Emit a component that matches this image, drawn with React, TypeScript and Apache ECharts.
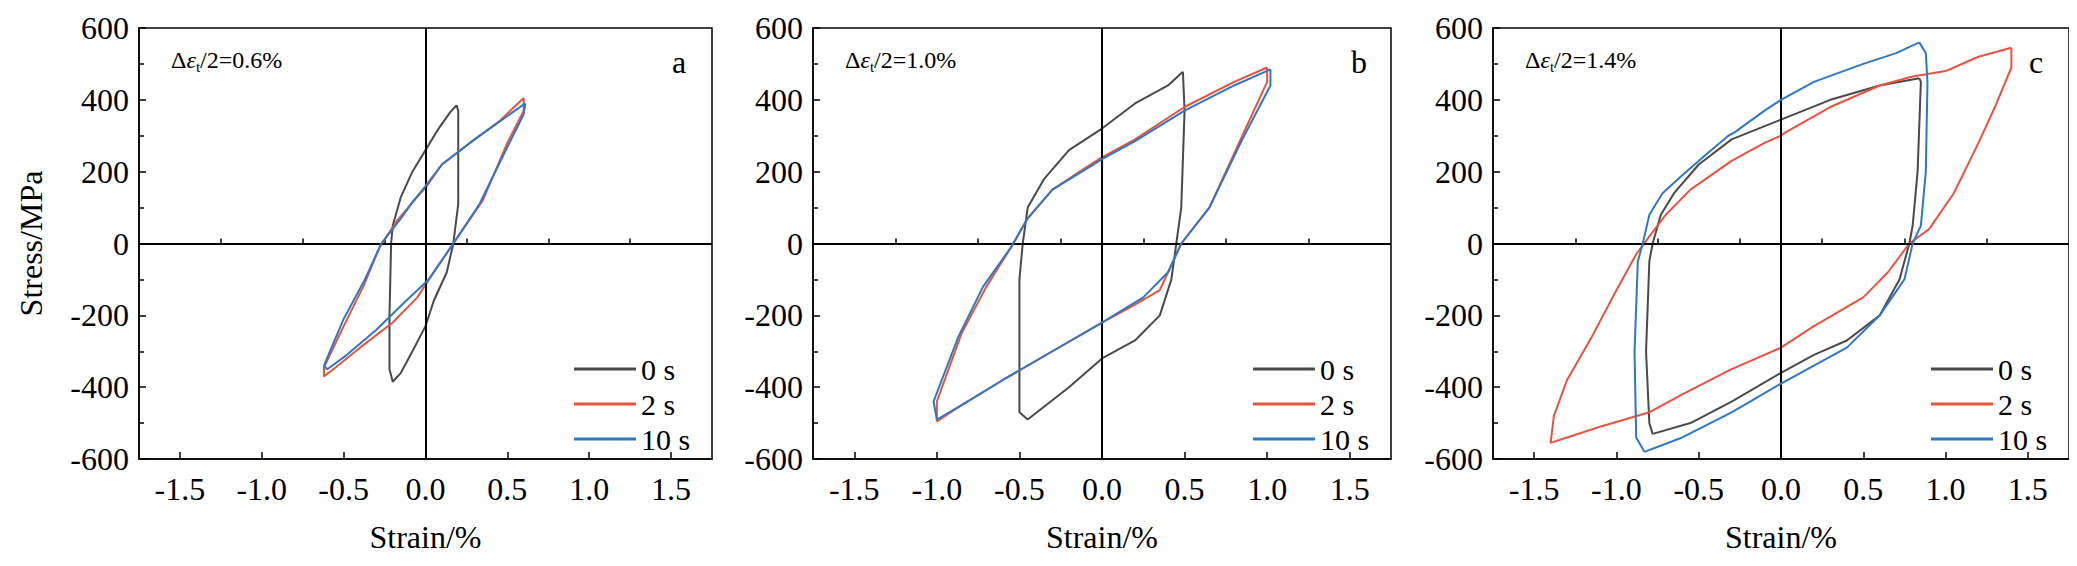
import React, { useEffect, useRef } from 'react';
import * as echarts from 'echarts';

type Pt = [number, number];

// panel a, Δε/2 = 0.6%
const a0: Pt[] = [[0.19, 385], [0.2, 370], [0.2, 110], [0.17, 0], [0.13, -80], [0.05, -160], [0, -230], [-0.08, -300], [-0.15, -360], [-0.2, -385], [-0.22, -350], [-0.22, -200], [-0.21, 0], [-0.2, 50], [-0.15, 130], [-0.08, 200], [0, 260], [0.08, 320], [0.15, 365], [0.19, 385]];
const a2: Pt[] = [[0.6, 405], [0.6, 370], [0.5, 280], [0.35, 120], [0.17, 0], [0.05, -80], [-0.05, -150], [-0.2, -220], [-0.4, -290], [-0.55, -345], [-0.62, -370], [-0.62, -345], [-0.5, -230], [-0.38, -120], [-0.28, -10], [-0.18, 60], [-0.05, 130], [0, 155], [0.1, 220], [0.3, 290], [0.45, 340], [0.6, 405]];
const a10: Pt[] = [[0.61, 390], [0.6, 360], [0.48, 250], [0.33, 110], [0.17, 0], [0.02, -100], [-0.12, -160], [-0.3, -240], [-0.48, -310], [-0.6, -350], [-0.62, -340], [-0.5, -210], [-0.37, -100], [-0.27, 0], [-0.15, 70], [-0.08, 115], [0, 160], [0.1, 220], [0.3, 290], [0.5, 355], [0.61, 390]];

// panel b, Δε/2 = 1.0%
const b0: Pt[] = [[0.49, 478], [0.5, 370], [0.48, 100], [0.45, 0], [0.42, -100], [0.35, -200], [0.2, -270], [0, -320], [-0.2, -400], [-0.45, -490], [-0.5, -470], [-0.5, -100], [-0.48, 0], [-0.45, 100], [-0.35, 180], [-0.2, 260], [0, 320], [0.2, 390], [0.4, 440], [0.49, 478]];
const b2: Pt[] = [[1.0, 490], [1.0, 450], [0.85, 300], [0.65, 100], [0.48, 0], [0.35, -130], [0.2, -170], [0, -220], [-0.3, -300], [-0.6, -380], [-0.85, -450], [-1.0, -495], [-1.0, -440], [-0.85, -250], [-0.7, -120], [-0.55, -10], [-0.45, 70], [-0.3, 150], [-0.07, 220], [0, 240], [0.2, 290], [0.5, 380], [0.8, 450], [1.0, 490]];
const b10: Pt[] = [[1.02, 485], [1.02, 440], [0.85, 290], [0.65, 100], [0.48, 0], [0.4, -80], [0.25, -150], [0, -220], [-0.3, -300], [-0.6, -380], [-0.85, -450], [-1.0, -490], [-1.02, -440], [-0.87, -260], [-0.72, -120], [-0.55, -10], [-0.45, 70], [-0.3, 150], [-0.07, 215], [0, 235], [0.2, 285], [0.5, 370], [0.8, 440], [1.02, 485]];

// panel c, Δε/2 = 1.4%
const c0: Pt[] = [[0.84, 460], [0.85, 450], [0.83, 200], [0.8, 50], [0.78, 0], [0.72, -100], [0.6, -200], [0.4, -270], [0.2, -310], [0, -360], [-0.3, -440], [-0.55, -500], [-0.78, -530], [-0.8, -500], [-0.82, -300], [-0.8, -50], [-0.78, 0], [-0.73, 80], [-0.65, 140], [-0.5, 220], [-0.3, 290], [0, 345], [0.3, 400], [0.6, 440], [0.84, 460]];
const c2: Pt[] = [[1.4, 545], [1.4, 490], [1.3, 380], [1.2, 280], [1.05, 140], [0.9, 40], [0.78, 0], [0.65, -80], [0.5, -150], [0.2, -230], [0, -290], [-0.3, -350], [-0.6, -420], [-0.8, -470], [-1.1, -510], [-1.3, -540], [-1.4, -555], [-1.38, -480], [-1.3, -380], [-1.15, -260], [-1.0, -130], [-0.88, -30], [-0.8, 20], [-0.7, 80], [-0.55, 150], [-0.3, 230], [-0.1, 280], [0, 300], [0.03, 310], [0.3, 380], [0.6, 440], [0.8, 465], [1.0, 480], [1.2, 520], [1.4, 545]];
const c10: Pt[] = [[0.84, 560], [0.88, 530], [0.89, 450], [0.88, 200], [0.85, 50], [0.8, 0], [0.75, -100], [0.6, -200], [0.4, -290], [0.2, -340], [0, -390], [-0.3, -470], [-0.6, -540], [-0.83, -580], [-0.88, -540], [-0.89, -300], [-0.87, -50], [-0.84, 0], [-0.8, 80], [-0.72, 140], [-0.6, 190], [-0.45, 250], [-0.32, 300], [-0.28, 310], [-0.1, 370], [0, 400], [0.2, 450], [0.5, 500], [0.7, 530], [0.84, 560]];

const names = ['0 s', '2 s', '10 s'];
const colors = ['#4a4a4a', '#e8533f', '#2f78c4'];
const xMajor = [-1.5, -1, -0.5, 0, 0.5, 1, 1.5];
const xMinor = [-1.25, -0.75, -0.25, 0.25, 0.75, 1.25];
const amplitudes = ['0.6', '1.0', '1.4'];
const letters = ['a', 'b', 'c'];
const panels = [[a0, a2, a10], [b0, b2, b10], [c0, c2, c10]];

// page coordinates minus the 8px body margin
const lefts = [131, 805, 1485];
const widths = [573, 578, 576];
const TOP = 20;
const HEIGHT = 439;
const FONT = "'Liberation Serif', 'Times New Roman', 'DejaVu Serif', serif";

export default function App() {
  const ref = useRef<HTMLDivElement>(null);

  useEffect(() => {
    if (!ref.current) return;
    const chart = echarts.init(ref.current, null, { renderer: 'svg' });
    const grid: any[] = [];
    const xAxis: any[] = [];
    const yAxis: any[] = [];
    const series: any[] = [];
    const legend: any[] = [];
    const graphic: any[] = [];
    const lbl = { color: '#000', fontFamily: FONT, fontSize: 32 };
    const line = { show: true, lineStyle: { color: '#000', width: 1.5 } };

    panels.forEach((loops, i) => {
      grid.push({ left: lefts[i], top: TOP, width: widths[i], height: HEIGHT, show: true, borderColor: '#000', borderWidth: 1.5 });
      xAxis.push({
        type: 'value', gridIndex: i, min: -1.75, max: 1.75, position: 'bottom',
        axisLine: { ...line, onZero: false },
        axisTick: { inside: true, length: 7, customValues: xMajor, lineStyle: { color: '#000', width: 1.5 } },
        axisLabel: { ...lbl, margin: 14, customValues: xMajor, formatter: (v: number) => v.toFixed(1) },
        splitLine: { show: false },
        name: 'Strain/%', nameLocation: 'middle', nameGap: 62, nameTextStyle: lbl,
      });
      yAxis.push({
        type: 'value', gridIndex: i, min: -600, max: 600, interval: 200,
        axisLine: { ...line, onZero: false },
        axisTick: { inside: true, length: 7, lineStyle: { color: '#000', width: 1.5 } },
        minorTick: { show: true, splitNumber: 2, length: 5, lineStyle: { color: '#000', width: 1.5 } },
        axisLabel: { ...lbl, margin: 10 },
        splitLine: { show: false },
        name: i === 0 ? 'Stress/MPa' : '', nameLocation: 'middle', nameGap: 92, nameTextStyle: lbl,
      });
      loops.forEach((data, k) => {
        series.push({
          type: 'line', name: names[k], xAxisIndex: i, yAxisIndex: i, data, symbol: 'none',
          lineStyle: { color: colors[k], width: 2 }, itemStyle: { color: colors[k] }, z: 3 + k,
          markLine: k === 0 ? {
            silent: true, symbol: 'none', label: { show: false },
            lineStyle: { color: '#000', width: 2, type: 'solid' },
            data: [{ xAxis: 0 }, { yAxis: 0 }],
          } : undefined,
        });
      });
      legend.push({
        data: names, orient: 'vertical', left: lefts[i] + widths[i] - 143, top: 341,
        icon: 'rect', itemWidth: 62, itemHeight: 3, itemGap: 5,
        textStyle: { color: '#000', fontFamily: FONT, fontSize: 30, lineHeight: 28 },
      });
      graphic.push({
        type: 'text', left: lefts[i] + 32, top: 40,
        style: {
          text: `{n|Δ}{e|ε}{s|t}{n|/2=${amplitudes[i]}%}`,
          rich: {
            n: { fontFamily: FONT, fontSize: 24, fill: '#000' },
            e: { fontFamily: FONT, fontSize: 24, fontStyle: 'italic', fill: '#000' },
            s: { fontFamily: FONT, fontSize: 15, fill: '#000', padding: [14, 0, 0, 0] },
          },
        },
      });
      graphic.push({
        type: 'text', left: lefts[i] + widths[i] - 40, top: 38,
        style: { text: letters[i], fontFamily: FONT, fontSize: 32, fill: '#000' },
      });
    });

    // minor ticks on the strain axes
    panels.forEach((_, i) => {
      xAxis.push({
        type: 'value', gridIndex: i, min: -1.75, max: 1.75, position: 'bottom',
        axisLine: { show: false },
        axisTick: { inside: true, length: 5, customValues: xMinor, lineStyle: { color: '#000', width: 1.5 } },
        axisLabel: { show: false }, splitLine: { show: false },
      });
    });

    chart.setOption({
      animation: false,
      backgroundColor: '#fff',
      textStyle: { fontFamily: FONT },
      grid, xAxis, yAxis, series, legend, graphic,
    });
    return () => chart.dispose();
  }, []);

  return <div ref={ref} style={{ width: 2061, height: 550 }} />;
}
